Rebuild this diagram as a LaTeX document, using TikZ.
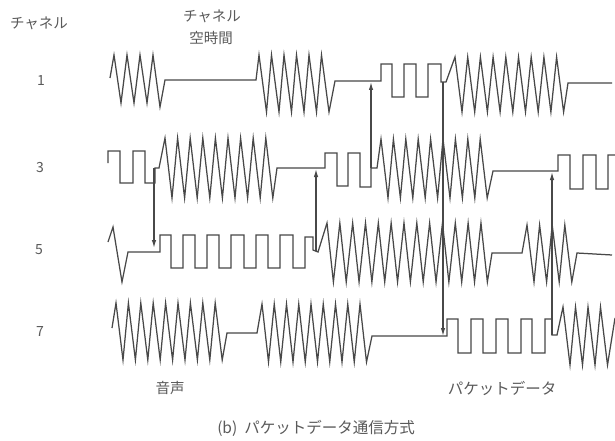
\documentclass[tikz,border=0pt]{standalone}
\usepackage{fontspec}
\setmainfont{Noto Sans CJK JP}
\usetikzlibrary{arrows.meta}
\definecolor{ink}{HTML}{484848}
\definecolor{txt}{HTML}{5A5A5A}
\tikzset{
  wave/.style={draw=ink, line width=1.25pt, line join=miter, miter limit=20},
  arr/.style={draw=ink, line width=1.25pt, -{Latex[length=8pt,width=4.5pt]}},
  lbl/.style={text=txt, inner sep=0pt, font=\fontsize{14.5}{16}\selectfont},
  big/.style={text=txt, inner sep=0pt, font=\fontsize{15.5}{17}\selectfont},
  num/.style={text=txt, inner sep=0pt, font=\fontsize{14}{16}\selectfont}
}
\begin{document}
\begin{tikzpicture}[x=1pt,y=-1pt]
\useasboundingbox (0,0) rectangle (615,441);
\fill[white] (0,0) rectangle (615,441);

% labels
\node[lbl] (hch) at (39,23) {チャネル};
\node[lbl] (hfree1) at (212,16) {チャネル};
\node[lbl] (hfree2) at (211,38) {空時間};
\node[num] (n1) at (41,81) {1};
\node[num] (n3) at (40,168) {3};
\node[num] (n5) at (39,250) {5};
\node[num] (n7) at (40,332) {7};
\node[lbl] (voice) at (170,388) {音声};
\node[big] (pkt) at (502,388) {パケットデータ};
\node[big] (cap) at (316,428) {(b)\ \ パケットデータ通信方式};

% channel 1
\draw[wave] (110,78) -- (114,55) -- (121,103) -- (127,55) -- (134,103) -- (140,55)
  -- (147,103) -- (153,55) -- (160,107) -- (165,80) -- (256,80)
  \foreach \k in {0,...,5} { -- ({259+12.5*\k},55) -- ({266.5+12.5*\k},112) }
  -- (335,81) -- (381,81) -- (381,64) -- (392,64) -- (392,97) -- (404,97) -- (404,64)
  -- (416,64) -- (416,97) -- (428,97) -- (428,64) -- (441,64) -- (441,82) -- (446,82)
  \foreach \k in {0,...,8} { -- ({455+12.7*\k},57) -- ({462+12.7*\k},112) }
  -- (568,83) -- (612,83);

% channel 3
\draw[wave] (108,163) -- (108,151) -- (120,151) -- (120,183) -- (133,183) -- (133,151)
  -- (145,151) -- (145,183) -- (155,183) -- (155,168) -- (159,168)
  \foreach \k in {0,...,8} { -- ({165+12.6*\k},138) -- ({172+12.6*\k},198) }
  -- (277,168) -- (325,168) -- (325,153) -- (337,153) -- (337,186) -- (348,186)
  -- (348,153) -- (360,153) -- (360,187) -- (371,187) -- (371,168) -- (377,168)
  \foreach \k in {0,...,8} { -- ({381+12.4*\k},139) -- ({388+12.4*\k},198) }
  -- (493,171) -- (558,171) -- (558,155) -- (570,155) -- (570,189) -- (583,189)
  -- (583,155) -- (596,155) -- (596,189) -- (608,189) -- (608,155) -- (615,155);

% channel 5
\draw[wave] (108,242) -- (113,227) -- (122,282) -- (128,252) -- (160,252) -- (160,235)
  \foreach \a in {171,195,219,244,268} { -- (\a,235) -- (\a,268) -- ({\a+12},268) -- ({\a+12},235) }
  -- (293,235) -- (293,268) -- (305,268) -- (305,237) -- (313,237) -- (313,250) -- (318,252)
  \foreach \k in {0,...,12} { -- ({327+12.83*\k},223) -- ({333.4+12.83*\k},282) }
  -- (492,253) -- (522,253)
  \foreach \k in {0,...,3} { -- ({527+12.6*\k},225) -- ({534+12.6*\k},282) }
  -- (577,253) -- (612,255);

% channel 7
\draw[wave] (112,328)
  \foreach \k in {0,...,8} { -- ({116+12.4*\k},303) -- ({123+12.4*\k},360) }
  -- (227,333) -- (257,333)
  \foreach \k in {0,...,8} { -- ({262+12.25*\k},304) -- ({268.5+12.25*\k},362) }
  -- (372,336) -- (447,336) -- (447,319)
  \foreach \a in {458,483,508,532} { -- (\a,319) -- (\a,353) -- ({\a+13},353) -- ({\a+13},319) }
  -- (552,319) -- (552,335) -- (557,335)
  \foreach \k in {0,...,3} { -- ({563+12.5*\k},307) -- ({570+12.5*\k},365) }
  -- (615,318);

% connector end points
\coordinate (a1s) at (154,168); \coordinate (a1e) at (154,248);
\coordinate (a2s) at (316,251); \coordinate (a2e) at (316,169);
\coordinate (a3s) at (371,168); \coordinate (a3e) at (371,82);
\coordinate (a4s) at (443,82);  \coordinate (a4e) at (443,336);
\coordinate (a5s) at (552,335); \coordinate (a5e) at (552,172);

\draw[arr] (a1s) -- (a1e);
\draw[arr] (a2s) -- (a2e);
\draw[arr] (a3s) -- (a3e);
\draw[arr] (a4s) -- (a4e);
\draw[arr] (a5s) -- (a5e);
\end{tikzpicture}
\end{document}
